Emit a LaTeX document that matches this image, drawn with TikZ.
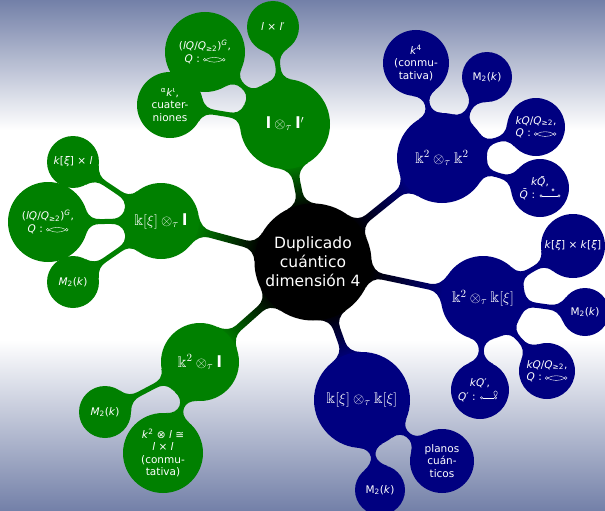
\documentclass[tikz,border=0pt]{standalone}
\usepackage{amssymb}
\usepackage{fontspec}
\setmainfont{DejaVu Sans}
\usetikzlibrary{calc}
\definecolor{bgc}{RGB}{115,128,168}
\definecolor{grn}{RGB}{0,128,0}
\definecolor{blu}{RGB}{0,0,128}
\pgfdeclarelayer{bglayer}
\pgfdeclarelayer{connlayer}
\pgfsetlayers{bglayer,connlayer,main}
\newcommand\qkron{\tikz[x=1pt,y=1pt,baseline=-2.5pt,line width=0.4pt]{\draw[white] (0,0) circle (1.4) (19,0) circle (1.4); \draw[white] (1.4,0.4) .. controls (6,3) and (13,3) .. (17.6,0.4); \draw[white] (1.4,-0.4) .. controls (6,-3) and (13,-3) .. (17.6,-0.4);}}
\newcommand\qbar{\tikz[x=1pt,y=1pt,baseline=-2.5pt,line width=0.4pt]{\draw[white] (0,0) circle (1.2) (18,0) circle (1.2) (12,6) circle (1.2); \draw[white] (1.2,0) -- (16.8,0);}}
\newcommand\qloop{\tikz[x=1pt,y=1pt,baseline=-2.5pt,line width=0.4pt]{\draw[white] (0,0) circle (1.2) (14,0) circle (1.2); \draw[white] (1.2,0) -- (12.8,0); \draw[white] (14,1.2) .. controls (8,9) and (20,9) .. (14,1.2);}}
\newcommand\bl{\mathbf{l}}
% \conn{from}{to}{path options}{attach half-width}{bar half-width}
\newcommand\conn[5]{%
 \pgfpointanchor{#1}{center}\pgfgetlastxy\cax\cay
 \pgfpointanchor{#2}{center}\pgfgetlastxy\cbx\cby
 \pgfpointanchor{#1}{east}\pgfgetlastxy\cex\cey
 \pgfpointanchor{#2}{east}\pgfgetlastxy\cfx\cfy
 \pgfmathsetmacro\cra{\cex-\cax}%
 \pgfmathsetmacro\crb{\cfx-\cbx}%
 \pgfmathsetmacro\cth{atan2(\cby-\cay,\cbx-\cax)}%
 \pgfmathsetmacro\cL{veclen(\cbx-\cax,\cby-\cay)}%
 \pgfmathsetmacro\cf{max(1,min(12,(\cL-\cra-\crb)/2))}%
 \pgfmathsetmacro\caa{asin(min(#4/\cra,0.9))}%
 \pgfmathsetmacro\cab{asin(min(#4/\crb,0.9))}%
 \pgfmathsetmacro\cka{0.7*\cf}%
 \pgfmathsetmacro\ckb{0.5*\cf}%
 \def\cw{#5}%
 \path[#3] ($(#1.center)+({\cth+\caa}:{\cra})$)
   .. controls +({\cth+\caa-90}:{\cka}) and +({\cth+180}:{\ckb}) .. ($(#1.center)+({\cth}:{\cra+\cf})+({\cth+90}:{\cw})$)
   -- ($(#2.center)+({\cth+180}:{\crb+\cf})+({\cth+90}:{\cw})$)
   .. controls +({\cth}:{\ckb}) and +({\cth+270-\cab}:{\cka}) .. ($(#2.center)+({\cth+180-\cab}:{\crb})$)
   -- ($(#2.center)+({\cth+180+\cab}:{\crb})$)
   .. controls +({\cth+90+\cab}:{\cka}) and +({\cth}:{\ckb}) .. ($(#2.center)+({\cth+180}:{\crb+\cf})+({\cth-90}:{\cw})$)
   -- ($(#1.center)+({\cth}:{\cra+\cf})+({\cth-90}:{\cw})$)
   .. controls +({\cth+180}:{\ckb}) and +({\cth+90-\caa}:{\cka}) .. ($(#1.center)+({\cth-\caa}:{\cra})$)
   -- cycle;
}
\begin{document}
\begin{tikzpicture}[x=1pt, y=-1pt,
  base/.style={circle, inner sep=0pt, text=white, align=center},
  root/.style={base, fill=black, minimum size=117pt, font=\fontsize{15.5}{19}\selectfont},
  gone/.style={base, fill=grn, font=\fontsize{15.5}{17}\selectfont},
  bone/.style={base, fill=blu, font=\fontsize{15.5}{17}\selectfont},
  gtwo/.style={base, fill=grn, font=\fontsize{10.5}{12.5}\selectfont},
  btwo/.style={base, fill=blu, font=\fontsize{10.5}{12.5}\selectfont},
  cg/.style={shade, bottom color=black, top color=grn, shading angle=\cth-90},
  cb/.style={shade, bottom color=black, top color=blu, shading angle=\cth-90},
  gg/.style={fill=grn},
  bb/.style={fill=blu},
]
\useasboundingbox (0,0) rectangle (605,511);
\begin{pgfonlayer}{bglayer}
\fill[top color=bgc, bottom color=white] (0,0) rectangle (605,130);
\fill[white] (0,130) rectangle (605,340);
\fill[top color=white, bottom color=bgc] (0,340) rectangle (605,511);
\end{pgfonlayer}

\node[root] (c) at (313,262) {Duplicado\\cuántico\\dimensión 4};

\node[gone, minimum size=90pt] (A) at (285,124) {$\bl\otimes_\tau\bl'$};
\node[gtwo, minimum size=80pt] (A1) at (205,52) {(\textit{lQ}/\textit{Q}\textsubscript{≥2})\textsuperscript{\textit{G}},\\\textit{Q} : \qkron};
\node[gtwo, minimum size=52pt] (A2) at (273,27) {\textit{l} × \textit{l}′};
\node[gtwo, minimum size=66pt] (A3) at (170,105) {\textsuperscript{α}\textit{k}\textsuperscript{ι},\\cuater-\\niones};

\node[bone, minimum size=90pt] (B) at (442,158) {$\Bbbk^2\otimes_\tau\Bbbk^2$};
\node[btwo, minimum size=66pt] (B1) at (416,63) {\textit{k}\textsuperscript{4}\\(conmu-\\tativa)};
\node[btwo, minimum size=50pt] (B2) at (487,77) {M\textsubscript{2}(\textit{k})};
\node[btwo, minimum size=58pt] (B3) at (536,127) {\textit{kQ}/\textit{Q}\textsubscript{≥2},\\\textit{Q} : \qkron};
\node[btwo, minimum size=58pt] (B4) at (540,188) {\textit{k\={Q}},\\\textit{\={Q}} : \qbar};

\node[gone, minimum size=76pt] (C) at (161,221) {$\Bbbk[\xi]\otimes_\tau\bl$};
\node[gtwo, minimum size=52pt] (C1) at (73,162) {\textit{k}[\textit{ξ}] × \textit{l}};
\node[gtwo, minimum size=80pt] (C2) at (48,222) {(\textit{lQ}/\textit{Q}\textsubscript{≥2})\textsuperscript{\textit{G}},\\\textit{Q} : \qkron};
\node[gtwo, minimum size=52pt] (C3) at (73,282) {\textit{M}\textsubscript{2}(\textit{k})};

\node[bone, minimum size=84pt] (D) at (483,298) {$\Bbbk^2\otimes_\tau\Bbbk[\xi]$};
\node[btwo, minimum size=64pt] (D1) at (573,246) {\textit{k}[\textit{ξ}] × \textit{k}[\textit{ξ}]};
\node[btwo, minimum size=48pt] (D2) at (585,312) {M\textsubscript{2}(\textit{k})};
\node[btwo, minimum size=56pt] (D3) at (547,371) {\textit{kQ}/\textit{Q}\textsubscript{≥2},\\\textit{Q} : \qkron};
\node[btwo, minimum size=58pt] (D4) at (480,390) {\textit{kQ}′,\\\textit{Q}′ : \qloop};

\node[gone, minimum size=78pt] (E) at (200,362) {$\Bbbk^2\otimes_\tau\bl$};
\node[gtwo, minimum size=52pt] (E1) at (105,412) {\textit{M}\textsubscript{2}(\textit{k})};
\node[gtwo, minimum size=80pt] (E2) at (163,453) {\textit{k}\textsuperscript{2} ⊗ \textit{l} ≅\\\textit{l} × \textit{l}\\(conmu-\\tativa)};

\node[bone, minimum size=96pt] (F) at (362,400) {$\Bbbk[\xi]\otimes_\tau\Bbbk[\xi]$};
\node[btwo, minimum size=64pt] (F1) at (442,461) {planos\\cuán-\\ticos};
\node[btwo, minimum size=50pt] (F2) at (380,490) {M\textsubscript{2}(\textit{k})};

\begin{pgfonlayer}{connlayer}
\begin{scope}[x=1pt,y=1pt]
\conn{c}{A}{cg}{15}{3.5}
\conn{c}{B}{cb}{15}{3.5}
\conn{c}{C}{cg}{15}{3.5}
\conn{c}{D}{cb}{15}{3}
\conn{c}{E}{cg}{15}{3.5}
\conn{c}{F}{cb}{15}{3.5}
\conn{A}{A1}{gg}{12}{2.5}
\conn{A}{A2}{gg}{12}{2.5}
\conn{A}{A3}{gg}{12}{2.5}
\conn{B}{B1}{bb}{12}{2.5}
\conn{B}{B2}{bb}{12}{2.5}
\conn{B}{B3}{bb}{12}{2.5}
\conn{B}{B4}{bb}{12}{2.5}
\conn{C}{C1}{gg}{12}{2.5}
\conn{C}{C2}{gg}{12}{2.5}
\conn{C}{C3}{gg}{12}{2.5}
\conn{D}{D1}{bb}{12}{2.5}
\conn{D}{D2}{bb}{12}{2.5}
\conn{D}{D3}{bb}{12}{2.5}
\conn{D}{D4}{bb}{12}{2.5}
\conn{E}{E1}{gg}{12}{2.5}
\conn{E}{E2}{gg}{12}{2.5}
\conn{F}{F1}{bb}{12}{2.5}
\conn{F}{F2}{bb}{12}{2.5}
\end{scope}
\end{pgfonlayer}
\end{tikzpicture}
\end{document}
